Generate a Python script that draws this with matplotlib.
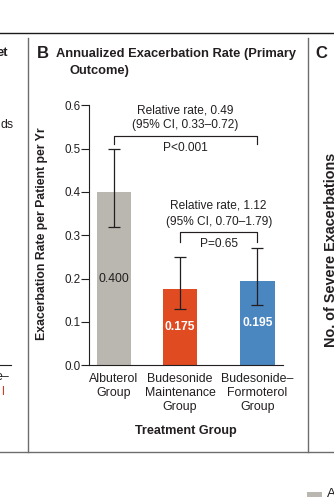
import matplotlib
matplotlib.use("Agg")
import matplotlib.pyplot as plt
from matplotlib.lines import Line2D

plt.rcParams['font.family'] = ['Liberation Sans', 'DejaVu Sans']

# data
groups = ["Albuterol\nGroup", "Budesonide\nMaintenance\nGroup", "Budesonide\u2013\nFormoterol\nGroup"]
positions = [0, 1, 2.17]
rates = [0.400, 0.175, 0.195]
ci_low = [0.32, 0.13, 0.14]
ci_high = [0.50, 0.25, 0.27]
bar_colors = ["#bab7b0", "#e04b22", "#4a86c0"]
value_labels = ["0.400", "0.175", "0.195"]
label_colors = ["#231f20", "white", "white"]

# comparisons: (group a, group b, bracket top, leg bottom, text lines, text heights)
comparisons = [
    (0, 2, 0.530, 0.510, ["Relative rate, 0.49", "(95% CI, 0.33\u20130.72)", "P<0.001"], [0.589, 0.555, 0.501]),
    (1, 2, 0.307, 0.285, ["Relative rate, 1.12", "(95% CI, 0.70\u20131.79)", "P=0.65"], [0.368, 0.331, 0.279]),
]

W, H = 334, 498
ink = "#231f20"
frame = "#6d6d6d"


def fx(px):
    return px / W


def fy(py):
    return 1 - py / H


fig = plt.figure(figsize=(W / 100, H / 100), dpi=100)
ax = fig.add_axes([fx(89.3), fy(365.3), fx(282.7) - fx(89.3), fy(105.3) - fy(365.3)])

ax.bar(positions, rates, width=0.518, color=bar_colors, zorder=1)
err = [[r - lo for r, lo in zip(rates, ci_low)], [hi - r for r, hi in zip(rates, ci_high)]]
ax.errorbar(positions, rates, yerr=err, fmt='none', ecolor=ink, elinewidth=0.9,
            capsize=4, capthick=0.9, zorder=3)

for p, r, t, c in zip(positions, rates, value_labels, label_colors):
    ax.text(p, r / 2, t, ha='center', va='center', color=c, fontsize=8.7,
            fontweight='bold' if c == 'white' else 'normal', zorder=4)

for a, b, top, leg, lines, ys in comparisons:
    xa, xb = positions[a], positions[b]
    ax.plot([xa, xa, xb, xb], [leg, top, top, leg], color=ink, lw=0.85, clip_on=False)
    for line, yy in zip(lines, ys):
        ax.text((xa + xb) / 2, yy, line, ha='center', va='center', color=ink,
                fontsize=8.6, clip_on=False)

ax.set_xlim(-0.370, 2.551)
ax.set_ylim(0, 0.6)
ax.set_yticks([0.0, 0.1, 0.2, 0.3, 0.4, 0.5, 0.6])
ax.set_yticklabels(["0.0", "0.1", "0.2", "0.3", "0.4", "0.5", "0.6"])
ax.set_xticks(positions)
ax.set_xticklabels(groups, fontsize=8.9, color=ink, linespacing=1.22)
ax.tick_params(axis='x', length=0, pad=5.5)
ax.tick_params(axis='y', length=5.5, width=0.8, pad=1, labelsize=8.4, colors=ink, direction='out')
for s in ["top", "right"]:
    ax.spines[s].set_visible(False)
for s in ["left", "bottom"]:
    ax.spines[s].set_linewidth(0.8)
    ax.spines[s].set_color(ink)

ax.set_ylabel("Exacerbation Rate per Patient per Yr", fontsize=8.8, fontweight='bold', color=ink)
ax.yaxis.set_label_coords(-0.2136, 0.507)
ax.set_xlabel("Treatment Group", fontsize=9.1, fontweight='bold', color=ink, va='center')
ax.xaxis.set_label_coords(0.5, -0.2515)

# panel title
fig.text(fx(36.5), fy(54), "B", fontsize=12, fontweight='bold', color=ink, va='center')
fig.text(fx(56), fy(54), "Annualized Exacerbation Rate (Primary", fontsize=9.25,
         fontweight='bold', color=ink, va='center')
fig.text(fx(70), fy(70.7), "Outcome)", fontsize=9.25, fontweight='bold', color=ink, va='center')

# frame of the panel grid
fig.add_artist(Line2D([0, 1], [fy(33.3), fy(33.3)], color="#1a1a1a", lw=1.0))
fig.add_artist(Line2D([0, 1], [fy(451.7), fy(451.7)], color=frame, lw=1.0))
for xv in [27.7, 308.3]:
    fig.add_artist(Line2D([fx(xv), fx(xv)], [fy(38.3), fy(451.7)], color=frame, lw=1.0))

# pieces of the neighbouring panels
fig.text(fx(8), fy(53), "et", fontsize=9.25, fontweight='bold', color=ink, ha='right', va='center')
fig.text(fx(13.3), fy(125), "ds", fontsize=8.9, color=ink, ha='right', va='center')
fig.add_artist(Line2D([0, fx(11)], [fy(365), fy(365)], color=ink, lw=0.8))
fig.text(fx(9.5), fy(377), "e\u2013", fontsize=8.9, color=ink, ha='right', va='center')
fig.text(fx(3.5), fy(391.5), "l", fontsize=8.9, color="#c8402a", ha='right', va='center')

fig.text(fx(315.5), fy(53), "C", fontsize=12, fontweight='bold', color=ink, va='center')
fig.text(fx(324), fy(347), "No. of Severe Exacerbations", fontsize=10.4, fontweight='bold',
         color=ink, rotation=90, ha='left', va='bottom')

fig.add_artist(plt.Rectangle((fx(307), fy(497)), fx(322) - fx(307), fy(492) - fy(497),
                             color="#bab7b0", lw=0))
fig.text(fx(327), fy(494), "A", fontsize=9.5, color=ink, va='center')

fig.savefig("out.png", dpi=100)
